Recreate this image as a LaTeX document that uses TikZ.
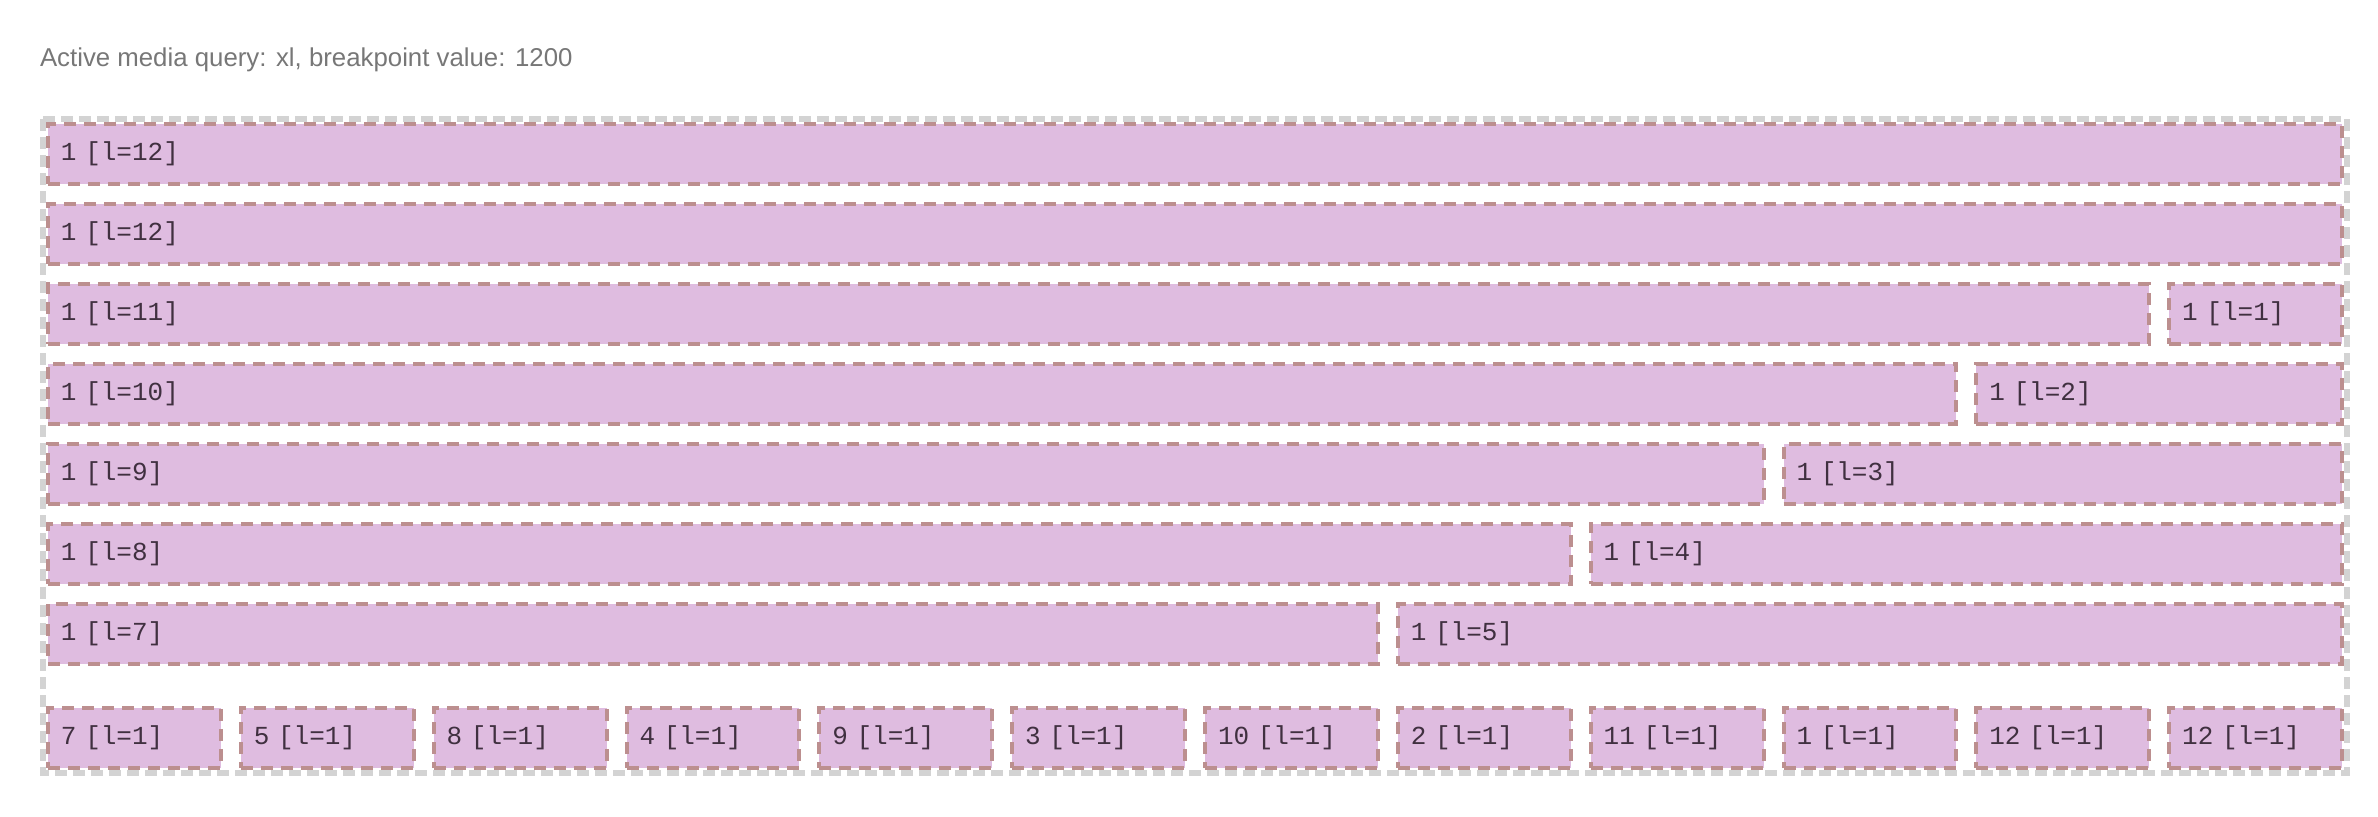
\documentclass[tikz,border=0pt]{standalone}
\usepackage{fontspec}
\usepackage{tikz}
\usetikzlibrary{positioning}
\newfontfamily\boxfont{Liberation Mono}[WordSpace={1,0,0}]
\newfontfamily\headfont{Liberation Sans}
\definecolor{boxfill}{RGB}{223,188,224}
\definecolor{boxline}{RGB}{188,143,143}
\definecolor{boxtext}{RGB}{64,48,64}
\definecolor{gridline}{RGB}{211,211,211}
\definecolor{headtext}{RGB}{119,119,119}
\tikzset{
  cell/.style={draw=boxline,fill=boxfill,line width=2pt,dash pattern=on 6pt off 4pt,
    anchor=west,outer sep=0pt,minimum height=30pt,inner xsep=6.5pt,inner ysep=0pt,
    minimum width=#1*96.4167pt-10pt,text width=#1*96.4167pt-23pt,align=left,
    font=\boxfont\fontsize{13pt}{15pt}\selectfont,text=boxtext},
  grid/.style={draw=gridline,line width=3pt,dash pattern=on 6pt off 3pt}
}

\begin{document}
\begin{tikzpicture}[x=0.5pt,y=-0.5pt]
\useasboundingbox (0,0) rectangle (2378,816);

\node (title) at (40,66)[anchor=base west,inner sep=0pt,outer sep=0pt,text=headtext,font=\headfont\fontsize{12.9pt}{15pt}\selectfont] {Active media query: xl, breakpoint value: 1200};

% container
\coordinate (gridNW) at (43,119);
\coordinate (gridSE) at (2347,773);
\draw [grid] (gridNW) rectangle (gridSE);

% rows
\node (R1) at (48,154)[cell=12] {1 [l=12]};
\node (R2) at (48,234)[cell=12] {1 [l=12]};
\node (R3a) at (48,314)[cell=11] {1 [l=11]};
\node (R3b) at (2169.17,314)[cell=1] {1 [l=1]};
\node (R4a) at (48,394)[cell=10] {1 [l=10]};
\node (R4b) at (1976.33,394)[cell=2] {1 [l=2]};
\node (R5a) at (48,474)[cell=9] {1 [l=9]};
\node (R5b) at (1783.5,474)[cell=3] {1 [l=3]};
\node (R6a) at (48,554)[cell=8] {1 [l=8]};
\node (R6b) at (1590.67,554)[cell=4] {1 [l=4]};
\node (R7a) at (48,634)[cell=7] {1 [l=7]};
\node (R7b) at (1397.83,634)[cell=5] {1 [l=5]};

% last row
\node (B1) at (48,738)[cell=1] {7 [l=1]};
\node (B2) at (240.83,738)[cell=1] {5 [l=1]};
\node (B3) at (433.67,738)[cell=1] {8 [l=1]};
\node (B4) at (626.5,738)[cell=1] {4 [l=1]};
\node (B5) at (819.33,738)[cell=1] {9 [l=1]};
\node (B6) at (1012.17,738)[cell=1] {3 [l=1]};
\node (B7) at (1205,738)[cell=1] {10 [l=1]};
\node (B8) at (1397.83,738)[cell=1] {2 [l=1]};
\node (B9) at (1590.67,738)[cell=1] {11 [l=1]};
\node (B10) at (1783.5,738)[cell=1] {1 [l=1]};
\node (B11) at (1976.33,738)[cell=1] {12 [l=1]};
\node (B12) at (2169.17,738)[cell=1] {12 [l=1]};
\end{tikzpicture}
\end{document}
